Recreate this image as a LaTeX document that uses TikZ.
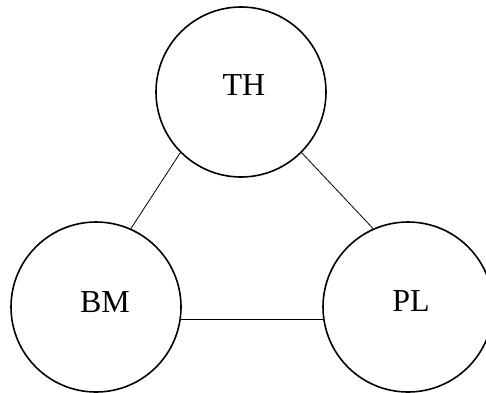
\documentclass[tikz,border=0pt]{standalone}
\usepackage{fontspec}
\setmainfont{Liberation Serif}

\tikzset{
    ball/.style={circle, draw=black, line width=1.6pt, minimum size=170pt, inner sep=0pt},
    tag/.style={font=\fontsize{32}{37}\selectfont},
    link/.style={draw=black, line width=0.8pt}
}

\begin{document}
\begin{tikzpicture}[x=1pt,y=1pt]
    \useasboundingbox (0,0) rectangle (486,392);

    \node[ball, label={[tag, xshift=3pt, yshift=7pt]center:TH}] (TH) at (241,300) {};
    \node[ball, label={[tag, xshift=9pt, yshift=5pt]center:BM}] (BM) at (96,85) {};
    \node[ball, label={[tag, xshift=3pt, yshift=6pt]center:PL}] (PL) at (408,85) {};

    \draw[link] (TH.225) -- (BM.66);
    \draw[link] (TH.315) -- (PL.114);
    \draw[link] (BM.-8) -- (PL.188);
\end{tikzpicture}
\end{document}
